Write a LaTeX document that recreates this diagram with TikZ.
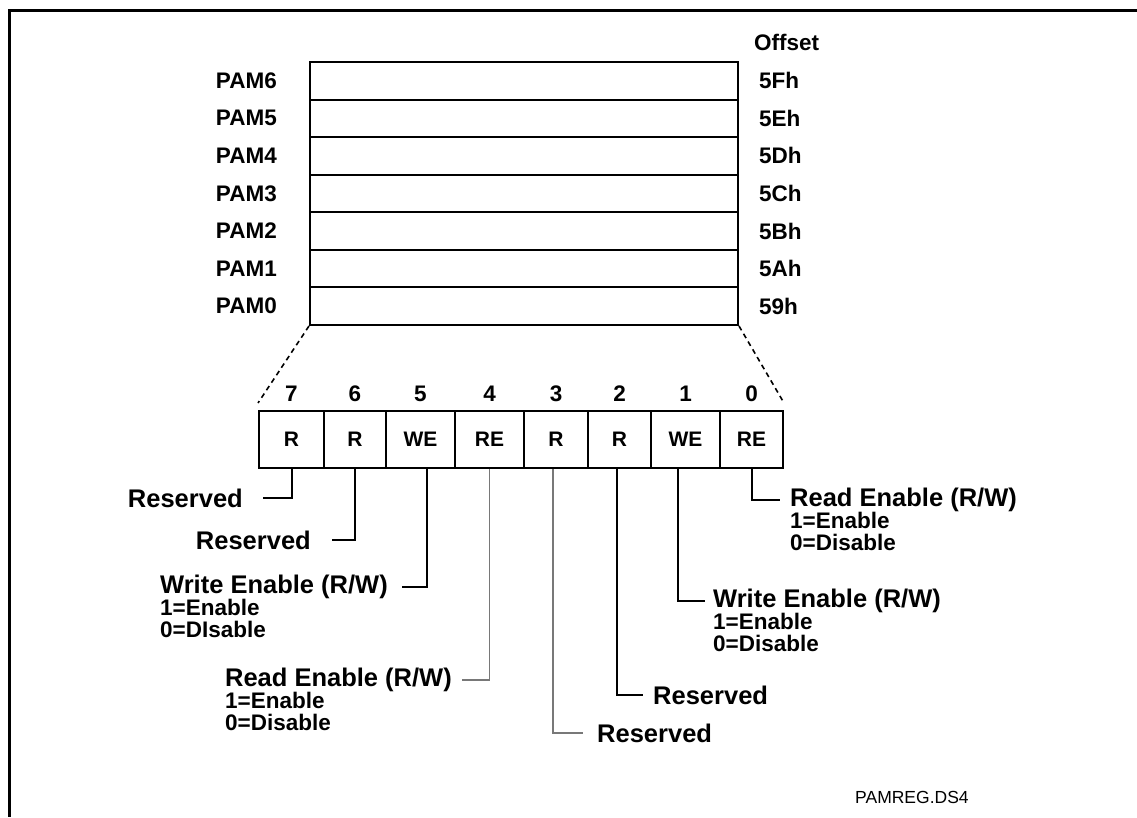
\documentclass[tikz,border=0pt]{standalone}
\usepackage{fontspec}
\usepackage{xcolor}
\usepackage{tikz}
\setmainfont{Liberation Sans}
\definecolor{LeadGray}{RGB}{120,120,120}

\tikzset{
  lbl/.style={font=\bfseries\fontsize{25.5}{27}\selectfont, inner sep=0pt},
  sublbl/.style={font=\bfseries\fontsize{22.5}{21.5}\selectfont, inner sep=0pt, align=left},
  hdr/.style={font=\bfseries\fontsize{22.5}{24}\selectfont, inner sep=0pt},
  pamrow/.style={draw, line width=2pt, minimum width=428pt, minimum height=37.57pt, inner sep=0pt},
  bitcell/.style={draw, line width=2pt, minimum height=57pt, inner sep=0pt,
    font=\bfseries\fontsize{21}{24}\selectfont},
  lead/.style={line width=2pt},
  faintlead/.style={LeadGray, line width=1.2pt},
  zoomline/.style={line width=1.6pt, dash pattern=on 5pt off 4pt}
}

\begin{document}
\begin{tikzpicture}[x=1pt, y=-1pt]
  \useasboundingbox (0,0) rectangle (1137,817);
  \draw[line width=3pt] (1137,10) -- (9,10) -- (9,817);

  % register stack
  \foreach \i/\off in {0/59h,1/5Ah,2/5Bh,3/5Ch,4/5Dh,5/5Eh,6/5Fh} {
    \node[pamrow] (pam\i) at (524, {325-(\i+0.5)*37.57}) {};
    \node[hdr, anchor=east] (name\i) at ([xshift=-32pt]pam\i.west) {PAM\i};
    \node[hdr, anchor=west] (off\i) at ([xshift=20pt]pam\i.east) {\off};
  }
  \node[hdr, anchor=west] (offhdr) at ([shift={(-5pt,38pt)}]off6.west) {Offset};

  % one register, bit by bit
  \foreach \bit/\l/\r/\txt in {7/259/324/R, 6/324/386/R, 5/386/455/WE, 4/455/524/RE,
                               3/524/588/R, 2/588/651/R, 1/651/720/WE, 0/720/783/RE} {
    \node[bitcell, minimum width={(\r-\l)*1pt}, label={[hdr, yshift=8pt]above:\bit}]
      (b\bit) at ({(\l+\r)/2}, 439.5) {\txt};
  }
  \draw[zoomline] (pam0.south west) -- ([yshift=7pt]b7.north west);
  \draw[zoomline] (pam0.south east) -- ([yshift=7pt]b0.north east);

  % field descriptions
  \node[lbl, anchor=east] (r7) at (243,498) {Reserved};
  \node[lbl, anchor=east] (r6) at (311,540) {Reserved};
  \node[lbl, anchor=east] (w5) at (388,587) {Write Enable (R/W)};
  \node[sublbl, anchor=north west] (w5s) at (w5.south west) {1=Enable\\0=DIsable};
  \node[lbl, anchor=east] (e4) at (452,680) {Read Enable (R/W)};
  \node[sublbl, anchor=north west] (e4s) at (e4.south west) {1=Enable\\0=Disable};
  \node[lbl, anchor=west] (r3) at (597,733) {Reserved};
  \node[lbl, anchor=west] (r2) at (653,695) {Reserved};
  \node[lbl, anchor=west] (w1) at (713,601) {Write Enable (R/W)};
  \node[sublbl, anchor=north west] (w1s) at (w1.south west) {1=Enable\\0=Disable};
  \node[lbl, anchor=west] (e0) at (790,500) {Read Enable (R/W)};
  \node[sublbl, anchor=north west] (e0s) at (e0.south west) {1=Enable\\0=Disable};

  \draw[lead] (b7.south) |- ([xshift=20pt]r7.east);
  \draw[lead] (b6.south) |- ([xshift=21pt]r6.east);
  \draw[lead] ([xshift=6pt]b5.south) |- ([xshift=14pt]w5.east);
  \draw[faintlead] (b4.south) |- ([xshift=10pt]e4.east);
  \draw[faintlead] ([xshift=-3pt]b3.south) |- ([xshift=-14pt]r3.west);
  \draw[lead] ([xshift=-3pt]b2.south) |- ([xshift=-10pt]r2.west);
  \draw[lead] ([xshift=-8pt]b1.south) |- ([xshift=-8pt]w1.west);
  \draw[lead] (b0.south) |- ([xshift=-10pt]e0.west);

  \node[anchor=west, inner sep=0pt, font=\fontsize{17.5}{20}\selectfont] (tag) at (855,797) {PAMREG.DS4};
\end{tikzpicture}
\end{document}
